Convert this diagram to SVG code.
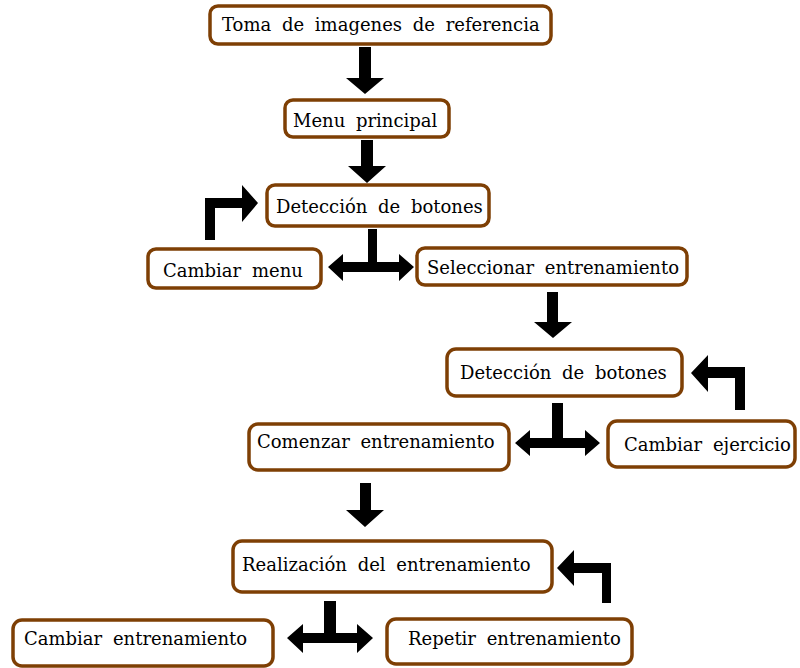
<svg xmlns="http://www.w3.org/2000/svg" width="800" height="668" viewBox="0 0 800 668">
<style>
.box{fill:#fff;stroke:#7e3f04;stroke-width:3.5}
.t{font-family:"DejaVu Serif","Liberation Serif",serif;font-size:18px;word-spacing:5px;fill:#000}
.a{fill:#000}
</style>
<rect width="800" height="668" fill="#fff"/>
<g id="connectors">
<polygon class="a" points="359,47 371,47 371,78 384,78 365,94 346,78 359,78"/>
<polygon class="a" points="361,140 373,140 373,166 386,166 367,183 348,166 361,166"/>
<polygon class="a" points="205,240 205,198 242,198 242,185 258,203 242,222 242,208 215,208 215,240"/>
<polygon class="a" points="368,229 377,229 377,262 399,262 399,254 414,267 399,281 399,272 343,272 343,281 328,267 343,254 343,262 368,262"/>
<polygon class="a" points="547,292 558,292 558,322 572,322 553,338 534,322 547,322"/>
<polygon class="a" points="745,410 745,367 708,367 708,355 691,373 708,392 708,378 735,378 735,410"/>
<polygon class="a" points="552,403 563,403 563,438 585,438 585,430 600,443 585,456 585,448 530,448 530,456 515,443 530,430 530,438 552,438"/>
<polygon class="a" points="360,483 371,483 371,510 384,510 365,527 346,510 360,510"/>
<polygon class="a" points="611,603 611,563 574,563 574,550 557,568 574,586 574,573 602,573 602,603"/>
<polygon class="a" points="324,601 336,601 336,633 357,633 357,624 373,638 357,653 357,643 303,643 303,653 287,638 303,624 303,633 324,633"/>
</g>
<g id="n1"><rect class="box" x="210" y="6" width="341" height="38" rx="8"/><text class="t" x="222" y="31">Toma de imagenes de referencia</text></g>
<g id="n2"><rect class="box" x="285" y="100" width="164" height="37" rx="8"/><text class="t" x="293" y="127">Menu principal</text></g>
<g id="n3"><rect class="box" x="267" y="185" width="222" height="41" rx="8"/><text class="t" x="276" y="213">Detección de botones</text></g>
<g id="n4"><rect class="box" x="148" y="249" width="173" height="39" rx="8"/><text class="t" x="163" y="277">Cambiar menu</text></g>
<g id="n5"><rect class="box" x="417" y="248" width="270" height="37" rx="8"/><text class="t" x="427" y="274">Seleccionar entrenamiento</text></g>
<g id="n6"><rect class="box" x="447" y="349" width="235" height="47" rx="9"/><text class="t" x="460" y="379">Detección de botones</text></g>
<g id="n7"><rect class="box" x="249" y="424" width="260" height="46" rx="9"/><text class="t" x="257" y="448">Comenzar entrenamiento</text></g>
<g id="n8"><rect class="box" x="608" y="421" width="187" height="46" rx="9"/><text class="t" x="624" y="451">Cambiar ejercicio</text></g>
<g id="n9"><rect class="box" x="233" y="541" width="319" height="51" rx="9"/><text class="t" x="242" y="571">Realización del entrenamiento</text></g>
<g id="n10"><rect class="box" x="13" y="620" width="260" height="46" rx="9"/><text class="t" x="24" y="645">Cambiar entrenamiento</text></g>
<g id="n11"><rect class="box" x="387" y="619" width="245" height="45" rx="9"/><text class="t" x="408" y="645">Repetir entrenamiento</text></g>
</svg>
